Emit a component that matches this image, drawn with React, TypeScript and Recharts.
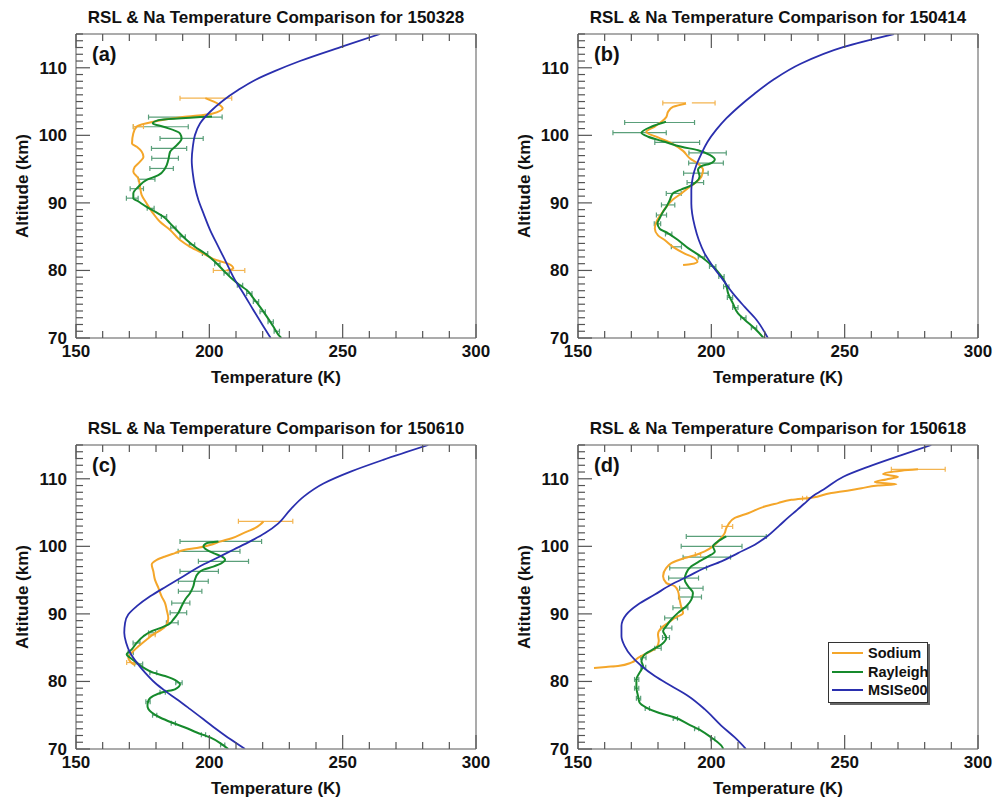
import { ComposedChart, ErrorBar, Line, XAxis, YAxis } from 'recharts';

// [altitude km, temperature K] profiles and [altitude, temperature, ±error] bars

const A_NA = [
  [105.5, 198.5], [104.6, 203.5], [104.0, 205], [103.2, 201], [102.7, 190], [102.0, 179], [101.3, 172.8],
  [100.3, 171.5], [98.8, 171], [98.3, 172.8], [97.6, 174.6], [96.8, 175.3], [96.1, 174], [95.3, 172],
  [94.6, 171.5], [93.6, 173.4], [92.4, 174], [91.2, 174.6], [89.9, 176.5], [88.4, 179], [87.2, 181.5],
  [86.0, 185.3], [84.5, 189], [83.5, 192.8], [82.5, 197.8], [81.5, 202.8], [81.0, 207], [80.3, 209], [80.0, 206.5],
];
const A_NA_ERR = [[105.5, 198.7, 9.7], [101.3, 173.4, 1.9], [80.0, 207.4, 5.9]];
const A_RAY = [
  [102.8, 201], [102.25, 180.9], [101.76, 178.8], [101.27, 182.8], [100.28, 189], [99.54, 189.6], [98.55, 187.8],
  [97.57, 185.3], [96.34, 184.6], [95.1, 183.4], [94.1, 180.9], [93.4, 176.5], [92.4, 173.4], [91.4, 171.5],
  [90.7, 171.5], [90.2, 173.4], [89.4, 176.5], [88.7, 179.6], [87.95, 182.8], [86.97, 185.3], [85.7, 188.4],
  [84.5, 191.5], [83.5, 194.6], [82.5, 198.4], [81.5, 201.5], [80.0, 205.3], [78.8, 208.4], [77.8, 211.5],
  [77.1, 214], [75.9, 216.5], [74.6, 219], [73.2, 221.5], [71.7, 224], [70.2, 226.5], [70.0, 227],
];
const A_RAY_ERR = [
  [102.7, 191, 13.8], [101.27, 181.8, 10.3], [99.54, 189.6, 8.1], [98.06, 184.9, 6.6], [96.6, 183.4, 5],
  [95.1, 182.1, 4.4], [93.5, 176.5, 3.1], [92.1, 172.8, 2.5], [90.7, 171.1, 2.2], [89.2, 178, 1.3],
  [88.0, 183, 1], [86.3, 186.5, 1], [85.0, 190, 1], [83.8, 193.5, 1], [82.5, 198.4, 1], [81.0, 203, 1],
  [79.6, 206.5, 1], [77.8, 211.5, 1], [76.6, 215, 1], [75.4, 217.5, 1], [73.9, 220, 1], [72.4, 223, 1], [71.0, 225.3, 1],
];
const A_MSIS = [
  [115, 264], [113.2, 250.3], [111, 234], [109.5, 224.5], [108.2, 217.2], [106.7, 210.8], [105.2, 205.3],
  [103.49, 200.3], [101.76, 196.5], [100.03, 194.6], [98.3, 193.8], [96.33, 193.4], [94.36, 193.8], [92.39, 194.6],
  [90.42, 195.9], [88.45, 197.8], [85.98, 200.3], [83.5, 203.4], [81.05, 206.5], [78.6, 209.6], [76.6, 212.8],
  [74.15, 216.5], [71.7, 220.3], [70, 223],
];

const B_NA = [
  [104.8, 191.5], [104.2, 185.6], [103.5, 183.8], [102.7, 183.1], [102.0, 181.3], [101.3, 178.8], [100.5, 175.6],
  [99.7, 180], [98.7, 185.6], [97.7, 189.4], [96.6, 191.9], [95.8, 195], [94.9, 196.9], [93.9, 196.3], [92.9, 193.8],
  [92.2, 191.3], [91.4, 188.8], [90.5, 185.6], [89.4, 183.1], [88.4, 181.3], [87.2, 179.4], [86.2, 178.8],
  [85.2, 180], [84.5, 182.5], [83.5, 185.6], [82.5, 190], [81.8, 193.8], [81.3, 194.8], [80.95, 192.5], [80.8, 189.4],
];
const B_NA_ERR = [[104.8, 191.6, 9.8]];
const B_RAY = [
  [102.0, 183], [101.27, 177.5], [100.38, 173.8], [99.79, 176.3], [99.05, 182.5], [98.3, 188.8], [97.8, 195],
  [97.1, 199.4], [96.43, 201.3], [95.8, 199.4], [95.45, 196.3], [94.9, 195], [93.9, 195.6], [93.13, 194.4],
  [92.49, 191.9], [92.0, 188.8], [91.4, 185.6], [90.4, 184.4], [89.4, 183.1], [88.7, 181.9], [87.7, 180.6],
  [86.97, 179.8], [86.2, 180.6], [85.5, 183.8], [84.5, 187.5], [83.3, 191.3], [82.0, 196.3], [80.8, 200],
  [79.8, 202.5], [78.8, 204.4], [77.8, 205.6], [76.6, 206.3], [75.1, 208.1], [73.65, 210], [72.7, 212.5],
  [71.4, 216.3], [70, 219.6],
];
const B_RAY_ERR = [
  [101.9, 180.6, 13.1], [100.4, 173.1, 10], [98.95, 187.2, 8.4], [97.4, 198.6, 7], [95.9, 198, 6.5],
  [94.4, 194.2, 4.6], [93.0, 194, 3.1], [91.4, 185.9, 2.8], [89.7, 183.8, 2.5], [88.2, 181.3, 1.9],
  [86.9, 179.8, 1.2], [85.4, 184, 1.2], [83.5, 186.9, 1.9], [82.0, 196.3, 1.2], [80.6, 200.5, 1.2],
  [79.1, 203.8, 1], [77.6, 205.6, 1], [76.0, 207, 1], [74.5, 209, 1], [73.0, 212, 1], [71.5, 216, 1],
];
const B_MSIS = [
  [115, 268.5], [113.1, 249.7], [110.6, 233.5], [108.3, 223.5], [106.2, 216.3], [104.2, 210.2], [102.5, 205.6],
  [100.8, 201.8], [99.05, 198.6], [97.3, 196.3], [95.6, 194.4], [93.9, 193.1], [91.9, 192.5], [89.9, 192.5],
  [88.45, 192.8], [86.5, 193.8], [84.5, 195.3], [82.5, 197.5], [80.6, 200.6], [78.6, 204.4], [76.6, 208.1],
  [74.6, 212.5], [72.7, 216.9], [70, 221.2],
];

const C_NA = [
  [103.68, 220.3], [103.2, 219], [102.7, 217.1], [101.96, 212.8], [101.2, 208.4], [100.7, 204], [100.2, 200.3],
  [99.75, 195.3], [99.5, 190.9], [99.0, 187.1], [98.5, 183.4], [98.0, 180.3], [97.3, 178.4], [96.3, 179],
  [95.07, 179.6], [93.85, 180.9], [92.6, 182.1], [91.6, 183.4], [90.6, 184], [89.4, 184.6], [88.4, 184],
  [87.7, 182.1], [86.96, 179], [86.2, 176.5], [85.2, 173.4], [84.25, 170.9], [83.5, 169.6], [82.88, 170.5], [82.4, 172.1],
];
const C_NA_ERR = [[103.7, 221.1, 10.2], [86.9, 178.5, 1.2], [82.8, 170.5, 1.5]];
const C_RAY = [
  [100.73, 203.4], [100.49, 199], [99.99, 197.8], [99.5, 199], [99.0, 201.5], [98.5, 204.6], [98.0, 205.9],
  [97.5, 204.6], [97.0, 201.5], [96.55, 197.8], [96.06, 195.9], [95.07, 194.6], [94.09, 194], [93.1, 192.8],
  [92.1, 190.9], [91.14, 189.6], [90.16, 188.4], [89.17, 186.5], [88.4, 184.6], [87.9, 181.5], [87.45, 178.4],
  [86.7, 175.3], [85.73, 172.8], [84.75, 170.9], [84.0, 169], [83.5, 170.3], [82.78, 172.8], [82.04, 175.3],
  [81.3, 179], [80.8, 183.4], [80.07, 187.8], [79.58, 189], [78.84, 187.1], [78.45, 182.8], [77.86, 179],
  [77.12, 177.1], [76.38, 176.8], [75.4, 178.4], [74.66, 181.5], [73.92, 185.9], [73.19, 190.9], [72.45, 195.3],
  [71.71, 200.3], [70.73, 204.6], [70, 207.1],
];
const C_RAY_ERR = [
  [100.73, 204.3, 15.3], [99.26, 199.9, 11.6], [97.78, 205.3, 9.4], [96.3, 196.2, 7.2], [94.83, 194, 5.6],
  [93.35, 192.8, 4.4], [91.6, 189.3, 3.4], [90.16, 188.4, 3.1], [88.68, 186.1, 2.2], [87.2, 178.5, 1.3],
  [85.7, 172.7, 1.3], [84.25, 170.5, 1], [82.6, 173.5, 1.5], [81.3, 179, 1.3], [79.8, 188.6, 1.2],
  [78.4, 182.5, 1], [77.0, 177, 0.8], [75.0, 179.5, 0.8], [73.8, 186.5, 0.8], [72.1, 197.8, 0.8], [70.6, 205, 0.8],
];
const C_MSIS = [
  [115, 282.1], [112.8, 265.2], [111.06, 253], [109.3, 242.8], [107.4, 235.5], [105.4, 230.3], [103.4, 225.9],
  [101.96, 220.9], [100.73, 215.3], [99.5, 209], [98.27, 202.8], [97.04, 196.5], [95.57, 190.3], [94.09, 184],
  [92.6, 177.8], [91.14, 172.8], [89.9, 169.6], [88.68, 168.4], [87.2, 168.1], [85.73, 168.8], [84.25, 170.3],
  [82.78, 172.8], [81.3, 175.9], [79.8, 179.6], [78.6, 183.4], [77.37, 187.8], [75.9, 192.8], [74.4, 197.8],
  [72.9, 202.8], [71.47, 207.8], [70, 213.4],
];

const D_NA = [
  [111.4, 277.5], [111.2, 271.3], [110.7, 264.4], [110.3, 270], [109.9, 265.6], [109.5, 261.3], [109.2, 269.4],
  [109.0, 262.5], [108.6, 256.3], [108.1, 248.8], [107.9, 245], [107.2, 237.5], [106.88, 230], [106.4, 225],
  [105.9, 220], [104.9, 213.8], [104.2, 208.8], [103.2, 206.3], [102.7, 205.6], [101.96, 205], [100.98, 203.1],
  [100, 200.6], [99.25, 197.5], [98.76, 194.4], [98.27, 190], [97.5, 185], [96.8, 183.1], [95.57, 181.9],
  [94.58, 183.1], [94.09, 186.3], [93.35, 187.5], [92.12, 188.1], [90.9, 188.8], [90.15, 189.4], [89.4, 186.3],
  [88.68, 183.8], [87.94, 181.3], [86.96, 180], [85.97, 180.3], [84.99, 179.4], [84.25, 176.3], [83.5, 172.5],
  [82.78, 170], [82.28, 165], [82.15, 160.5], [82.0, 156],
];
const D_NA_ERR = [[111.4, 277.6, 10.1], [102.95, 206, 2], [107.1, 235, 0.8], [98.8, 195, 1]];
const D_RAY = [
  [101.47, 205.6], [100.73, 202.5], [100, 200.6], [99.25, 201.3], [98.5, 198.8], [97.8, 195.6], [97.04, 192.5],
  [96.06, 190.6], [95.07, 190], [94.09, 191.3], [93.1, 193.1], [92.12, 192.5], [91.14, 190.6], [90.15, 187.5],
  [89.17, 185], [88.19, 183.1], [87.45, 181.9], [86.47, 183.1], [85.48, 181.3], [84.74, 178.1], [84.0, 175],
  [83.0, 173.8], [82.28, 174.4], [81.3, 173.1], [80.3, 171.9], [79.09, 171.9], [77.86, 172.5], [76.87, 173.1],
  [76.14, 175.6], [75.4, 180], [74.66, 186.3], [73.68, 191.3], [72.7, 196.3], [71.7, 200], [70.48, 203.8], [70, 204.5],
];
const D_RAY_ERR = [
  [101.47, 205.6, 15], [100, 200.1, 11.4], [98.4, 198.3, 8.9], [96.8, 191.3, 6.9], [95.3, 189.6, 5.6],
  [93.8, 192.5, 4.4], [92.5, 192, 4.3], [90.9, 188.4, 2.8], [89.4, 184.9, 2.4], [87.9, 183.1, 2.1],
  [86.5, 183, 1.3], [84.9, 180, 1.2], [83.5, 174.5, 1], [82.1, 174.5, 0.9], [80.3, 172, 0.8], [79.0, 172, 0.8],
  [77.5, 172.7, 0.8], [76.0, 176, 0.8], [74.5, 186.5, 0.8], [73.0, 194.5, 0.8], [71.5, 200.5, 0.8],
];
const D_MSIS = [
  [115, 282.5], [113.5, 271.3], [111.8, 259], [110.3, 249.5], [108.6, 242.8], [107.4, 238], [106.3, 234.8],
  [105.2, 231.6], [104.4, 229.2], [103.0, 225.3], [101.5, 221], [100.24, 216.3], [99.0, 210], [97.78, 203.8],
  [96.8, 197.5], [95.57, 191.3], [94.34, 185], [92.86, 178.8], [91.4, 172.5], [89.9, 168.1], [88.19, 166.3],
  [86.7, 166.3], [85.24, 167.5], [83.76, 170], [82.28, 173.8], [80.8, 178.8], [79.33, 185], [77.86, 191.3],
  [75.9, 197.5], [73.43, 203.8], [71.71, 208.8], [70, 213],
];

const X_TICKS = [150, 160, 170, 180, 190, 200, 210, 220, 230, 240, 250, 260, 270, 280, 290, 300];
const Y_TICKS = Array.from({ length: 46 }, (_, i) => 70 + i);

const NA_C = '#f4a62a';
const NA_ERR_C = '#f3b450';
const RAY_C = '#168a2c';
const RAY_ERR_C = '#5a9f7a';
const MSIS_C = '#2a2fae';
const FRAME = '#8f8f8f';
const TICK = '#555555';
const FONT = '"Liberation Sans", Arial, Helvetica, sans-serif';

const LEGEND = [
  { name: 'Sodium', color: NA_C },
  { name: 'Rayleigh', color: RAY_C },
  { name: 'MSISe00', color: MSIS_C },
];

const PANELS = [
  { tag: '(a)', date: '150328', na: A_NA, naErr: A_NA_ERR, ray: A_RAY, rayErr: A_RAY_ERR, msis: A_MSIS, left: 0, top: 0 },
  { tag: '(b)', date: '150414', na: B_NA, naErr: B_NA_ERR, ray: B_RAY, rayErr: B_RAY_ERR, msis: B_MSIS, left: 502, top: 0 },
  { tag: '(c)', date: '150610', na: C_NA, naErr: C_NA_ERR, ray: C_RAY, rayErr: C_RAY_ERR, msis: C_MSIS, left: 0, top: 411 },
  { tag: '(d)', date: '150618', na: D_NA, naErr: D_NA_ERR, ray: D_RAY, rayErr: D_RAY_ERR, msis: D_MSIS, left: 502, top: 411 },
];

const rows = (pts: number[][]) => pts.map(([alt, t, e]) => ({ alt, t, e }));

const txt = { fontFamily: FONT, fontSize: 17, fontWeight: 700, fill: '#111' };

// ticks point inward, long ones on the labelled majors
const BottomTick = ({ x, y, payload }: any) => {
  const v = payload.value;
  const major = v % 50 === 0;
  return (
    <g>
      <line x1={x} x2={x} y1={y} y2={y - (major ? 14 : 7)} stroke={TICK} strokeWidth={1.2} />
      {major && <text x={x} y={y + 19} textAnchor="middle" {...txt}>{v}</text>}
    </g>
  );
};
const TopTick = ({ x, y, payload }: any) => {
  const major = payload.value % 50 === 0;
  return <line x1={x} x2={x} y1={y} y2={y + (major ? 14 : 7)} stroke={TICK} strokeWidth={1.2} />;
};
const LeftTick = ({ x, y, payload }: any) => {
  const v = payload.value;
  const major = v % 10 === 0;
  return (
    <g>
      <line x1={x} x2={x + (major ? 14 : 7)} y1={y} y2={y} stroke={TICK} strokeWidth={1.2} />
      {major && <text x={x - 9} y={y + 6} textAnchor="end" {...txt}>{v}</text>}
    </g>
  );
};
const RightTick = ({ x, y, payload }: any) => {
  const major = payload.value % 10 === 0;
  return <line x1={x} x2={x - (major ? 14 : 7)} y1={y} y2={y} stroke={TICK} strokeWidth={1.2} />;
};

const Panel = ({ p, legend }: { p: (typeof PANELS)[number]; legend?: boolean }) => {
  const axisLine = { stroke: FRAME, strokeWidth: 1.5 };
  return (
    <div style={{ position: 'absolute', left: p.left, top: p.top, width: 502, height: 411 }}>
      <ComposedChart
        layout="vertical"
        width={502}
        height={411}
        margin={{ top: 33, right: 25, bottom: 72, left: 75 }}
      >
        <XAxis
          xAxisId="x"
          type="number"
          domain={[150, 300]}
          allowDataOverflow
          ticks={X_TICKS}
          interval={0}
          height={1}
          tickSize={0}
          tickMargin={0}
          tickLine={false}
          axisLine={axisLine}
          tick={BottomTick}
          label={{ value: 'Temperature (K)', position: 'bottom', offset: 32, ...txt }}
        />
        <XAxis
          xAxisId="xt"
          orientation="top"
          type="number"
          domain={[150, 300]}
          allowDataOverflow
          ticks={X_TICKS}
          interval={0}
          height={1}
          tickSize={0}
          tickMargin={0}
          tickLine={false}
          axisLine={axisLine}
          tick={TopTick}
          label={{ value: `RSL & Na Temperature Comparison for ${p.date}`, position: 'top', offset: 10, ...txt }}
        />
        <YAxis
          yAxisId="y"
          type="number"
          dataKey="alt"
          domain={[70, 115]}
          allowDataOverflow
          reversed
          ticks={Y_TICKS}
          interval={0}
          width={1}
          tickSize={0}
          tickMargin={0}
          tickLine={false}
          axisLine={axisLine}
          tick={LeftTick}
          label={{ value: 'Altitude (km)', angle: -90, position: 'left', offset: 53.5, ...txt, style: { textAnchor: 'middle' } }}
        />
        <YAxis
          yAxisId="yr"
          orientation="right"
          type="number"
          domain={[70, 115]}
          allowDataOverflow
          reversed
          ticks={Y_TICKS}
          interval={0}
          width={1}
          tickSize={0}
          tickMargin={0}
          tickLine={false}
          axisLine={axisLine}
          tick={RightTick}
        />
        <Line data={rows(p.rayErr)} dataKey="t" xAxisId="x" yAxisId="y" stroke="none" dot={false} activeDot={false} isAnimationActive={false}>
          <ErrorBar dataKey="e" direction="x" width={2.5} stroke={RAY_ERR_C} strokeWidth={1.2} isAnimationActive={false} />
        </Line>
        <Line data={rows(p.naErr)} dataKey="t" xAxisId="x" yAxisId="y" stroke="none" dot={false} activeDot={false} isAnimationActive={false}>
          <ErrorBar dataKey="e" direction="x" width={2.5} stroke={NA_ERR_C} strokeWidth={1.2} isAnimationActive={false} />
        </Line>
        <Line data={rows(p.na)} dataKey="t" xAxisId="x" yAxisId="y" type="monotone" stroke={NA_C} strokeWidth={2} dot={false} activeDot={false} isAnimationActive={false} />
        <Line data={rows(p.ray)} dataKey="t" xAxisId="x" yAxisId="y" type="monotone" stroke={RAY_C} strokeWidth={2} dot={false} activeDot={false} isAnimationActive={false} />
        <Line data={rows(p.msis)} dataKey="t" xAxisId="x" yAxisId="y" type="monotone" stroke={MSIS_C} strokeWidth={1.8} dot={false} activeDot={false} isAnimationActive={false} />
      </ComposedChart>
      <span style={{ position: 'absolute', left: 92, top: 43, fontFamily: FONT, fontSize: 20, fontWeight: 700, lineHeight: '22px', color: '#111' }}>
        {p.tag}
      </span>
      {legend && (
        <div
          style={{
            position: 'absolute', left: 326, top: 231, width: 98, height: 59,
            border: '1px solid #333', background: '#fff', boxShadow: '2px 2px 0 #666',
          }}
        >
          {LEGEND.map((item, i) => (
            <div key={item.name} style={{ position: 'absolute', left: 3, top: 1 + i * 18.5, height: 18, display: 'flex', alignItems: 'center' }}>
              <span style={{ display: 'inline-block', width: 31, height: 2, background: item.color }} />
              <span style={{ marginLeft: 5, fontFamily: FONT, fontSize: 14.5, fontWeight: 700, color: '#111' }}>{item.name}</span>
            </div>
          ))}
        </div>
      )}
    </div>
  );
};

export default function App() {
  return (
    <div style={{ position: 'fixed', left: 0, top: 0, width: 1003, height: 798, background: '#fff', overflow: 'hidden' }}>
      {PANELS.map((p, i) => (
        <Panel key={p.tag} p={p} legend={i === 3} />
      ))}
    </div>
  );
}
